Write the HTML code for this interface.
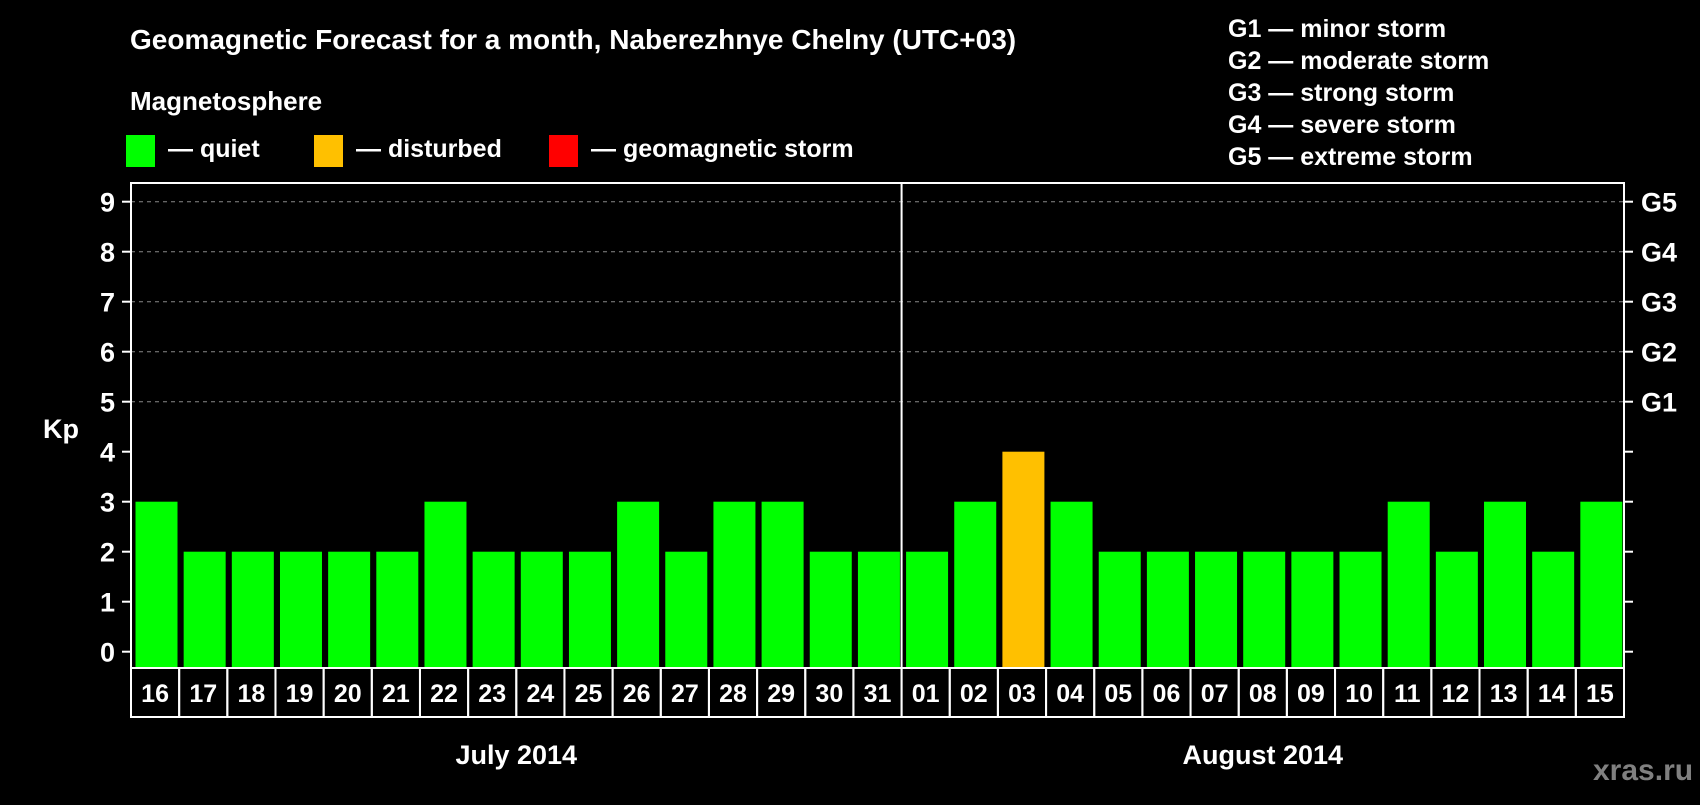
<!DOCTYPE html>
<html><head><meta charset="utf-8"><style>
body{margin:0;background:#000;width:1700px;height:800px;overflow:hidden}
svg text{font-family:"Liberation Sans",sans-serif;font-weight:bold;fill:#fff}
</style></head><body>
<svg id="c" width="1700" height="800">
<text x="130" y="49" font-size="28">Geomagnetic Forecast for a month, Naberezhnye Chelny (UTC+03)</text>
<text x="130" y="110" font-size="26">Magnetosphere</text>
<rect x="126" y="135" width="29" height="32" fill="#00ff00"/>
<text x="168" y="157" font-size="25">— quiet</text>
<rect x="314" y="135" width="29" height="32" fill="#ffc000"/>
<text x="356" y="157" font-size="25">— disturbed</text>
<rect x="549" y="135" width="29" height="32" fill="#ff0000"/>
<text x="591" y="157" font-size="25">— geomagnetic storm</text>
<g font-size="25">
<text x="1228" y="37">G1 — minor storm</text>
<text x="1228" y="69">G2 — moderate storm</text>
<text x="1228" y="101">G3 — strong storm</text>
<text x="1228" y="133">G4 — severe storm</text>
<text x="1228" y="165">G5 — extreme storm</text>
</g>
<text x="43" y="438" font-size="27">Kp</text>
<text x="1593" y="780" font-size="30" style="fill:#808080">xras.ru</text>
<g id="g"></g>
</svg>
<script>
const days=["16","17","18","19","20","21","22","23","24","25","26","27","28","29","30","31","01","02","03","04","05","06","07","08","09","10","11","12","13","14","15"];
const kp=[3,2,2,2,2,2,3,2,2,2,3,2,3,3,2,2,2,3,4,3,2,2,2,2,2,2,3,2,3,2,3];
const yTicks=[0,1,2,3,4,5,6,7,8,9];
const gLabels=["G1","G2","G3","G4","G5"];
const months=["July 2014","August 2014"];
const monthDays=[16,15];
const L=131,R=1624,T=183,B=668,N=days.length,slot=(R-L)/N;
const y=v=>651.7-v*50, x=i=>L+i*slot;
const g=document.getElementById('g'),NS="http://www.w3.org/2000/svg";
function mk(t,a,txt){const e=document.createElementNS(NS,t);for(const k in a)e.setAttribute(k,a[k]);if(txt!=null)e.textContent=txt;g.appendChild(e);return e;}
yTicks.forEach(v=>{
 if(v>=5){const l=mk('line',{x1:L,x2:R,y1:y(v),y2:y(v),stroke:'#888','stroke-dasharray':'4,4','stroke-width':1});
 
 }
 const t1=mk('line',{x1:L-9,x2:L,y1:y(v),y2:y(v),stroke:'#fff','stroke-width':2});
 
 
 const t2=mk('line',{x1:R,x2:R+9,y1:y(v),y2:y(v),stroke:'#fff','stroke-width':2});
 
 
 const tl=mk('text',{x:115,y:y(v)+10,'font-size':27,'text-anchor':'end'},String(v));
 
 
});
gLabels.forEach((s,i)=>{const t=mk('text',{x:1641,y:y(5+i)+10,'font-size':27},s);
 
 });
kp.forEach((v,i)=>{
 const c=v>=5?'#ff0000':v>=4?'#ffc000':'#00ff00';
 const b=mk('rect',{x:x(i)+4.5,y:y(v),width:42,height:B-y(v),fill:c});
 
 
 const cell=mk('rect',{x:x(i),y:B,width:slot,height:49,fill:'none',stroke:'#fff','stroke-width':2});
 
 
 const t=mk('text',{x:x(i)+slot/2,y:B+34,'font-size':25,'text-anchor':'middle'},days[i]);
 
 
});
const fr=mk('rect',{x:L,y:T,width:R-L,height:B-T,fill:'none',stroke:'#fff','stroke-width':2});


let start=0;
months.forEach((m,k)=>{
 const cx=x(start+monthDays[k]/2);
 const t=mk('text',{x:cx,y:764,'font-size':27,'text-anchor':'middle'},m);
 
 
 start+=monthDays[k];
 if(k<months.length-1){const d=mk('line',{x1:x(start),x2:x(start),y1:T,y2:B,stroke:'#fff','stroke-width':2});
 
 }
});
</script>
</body></html>
